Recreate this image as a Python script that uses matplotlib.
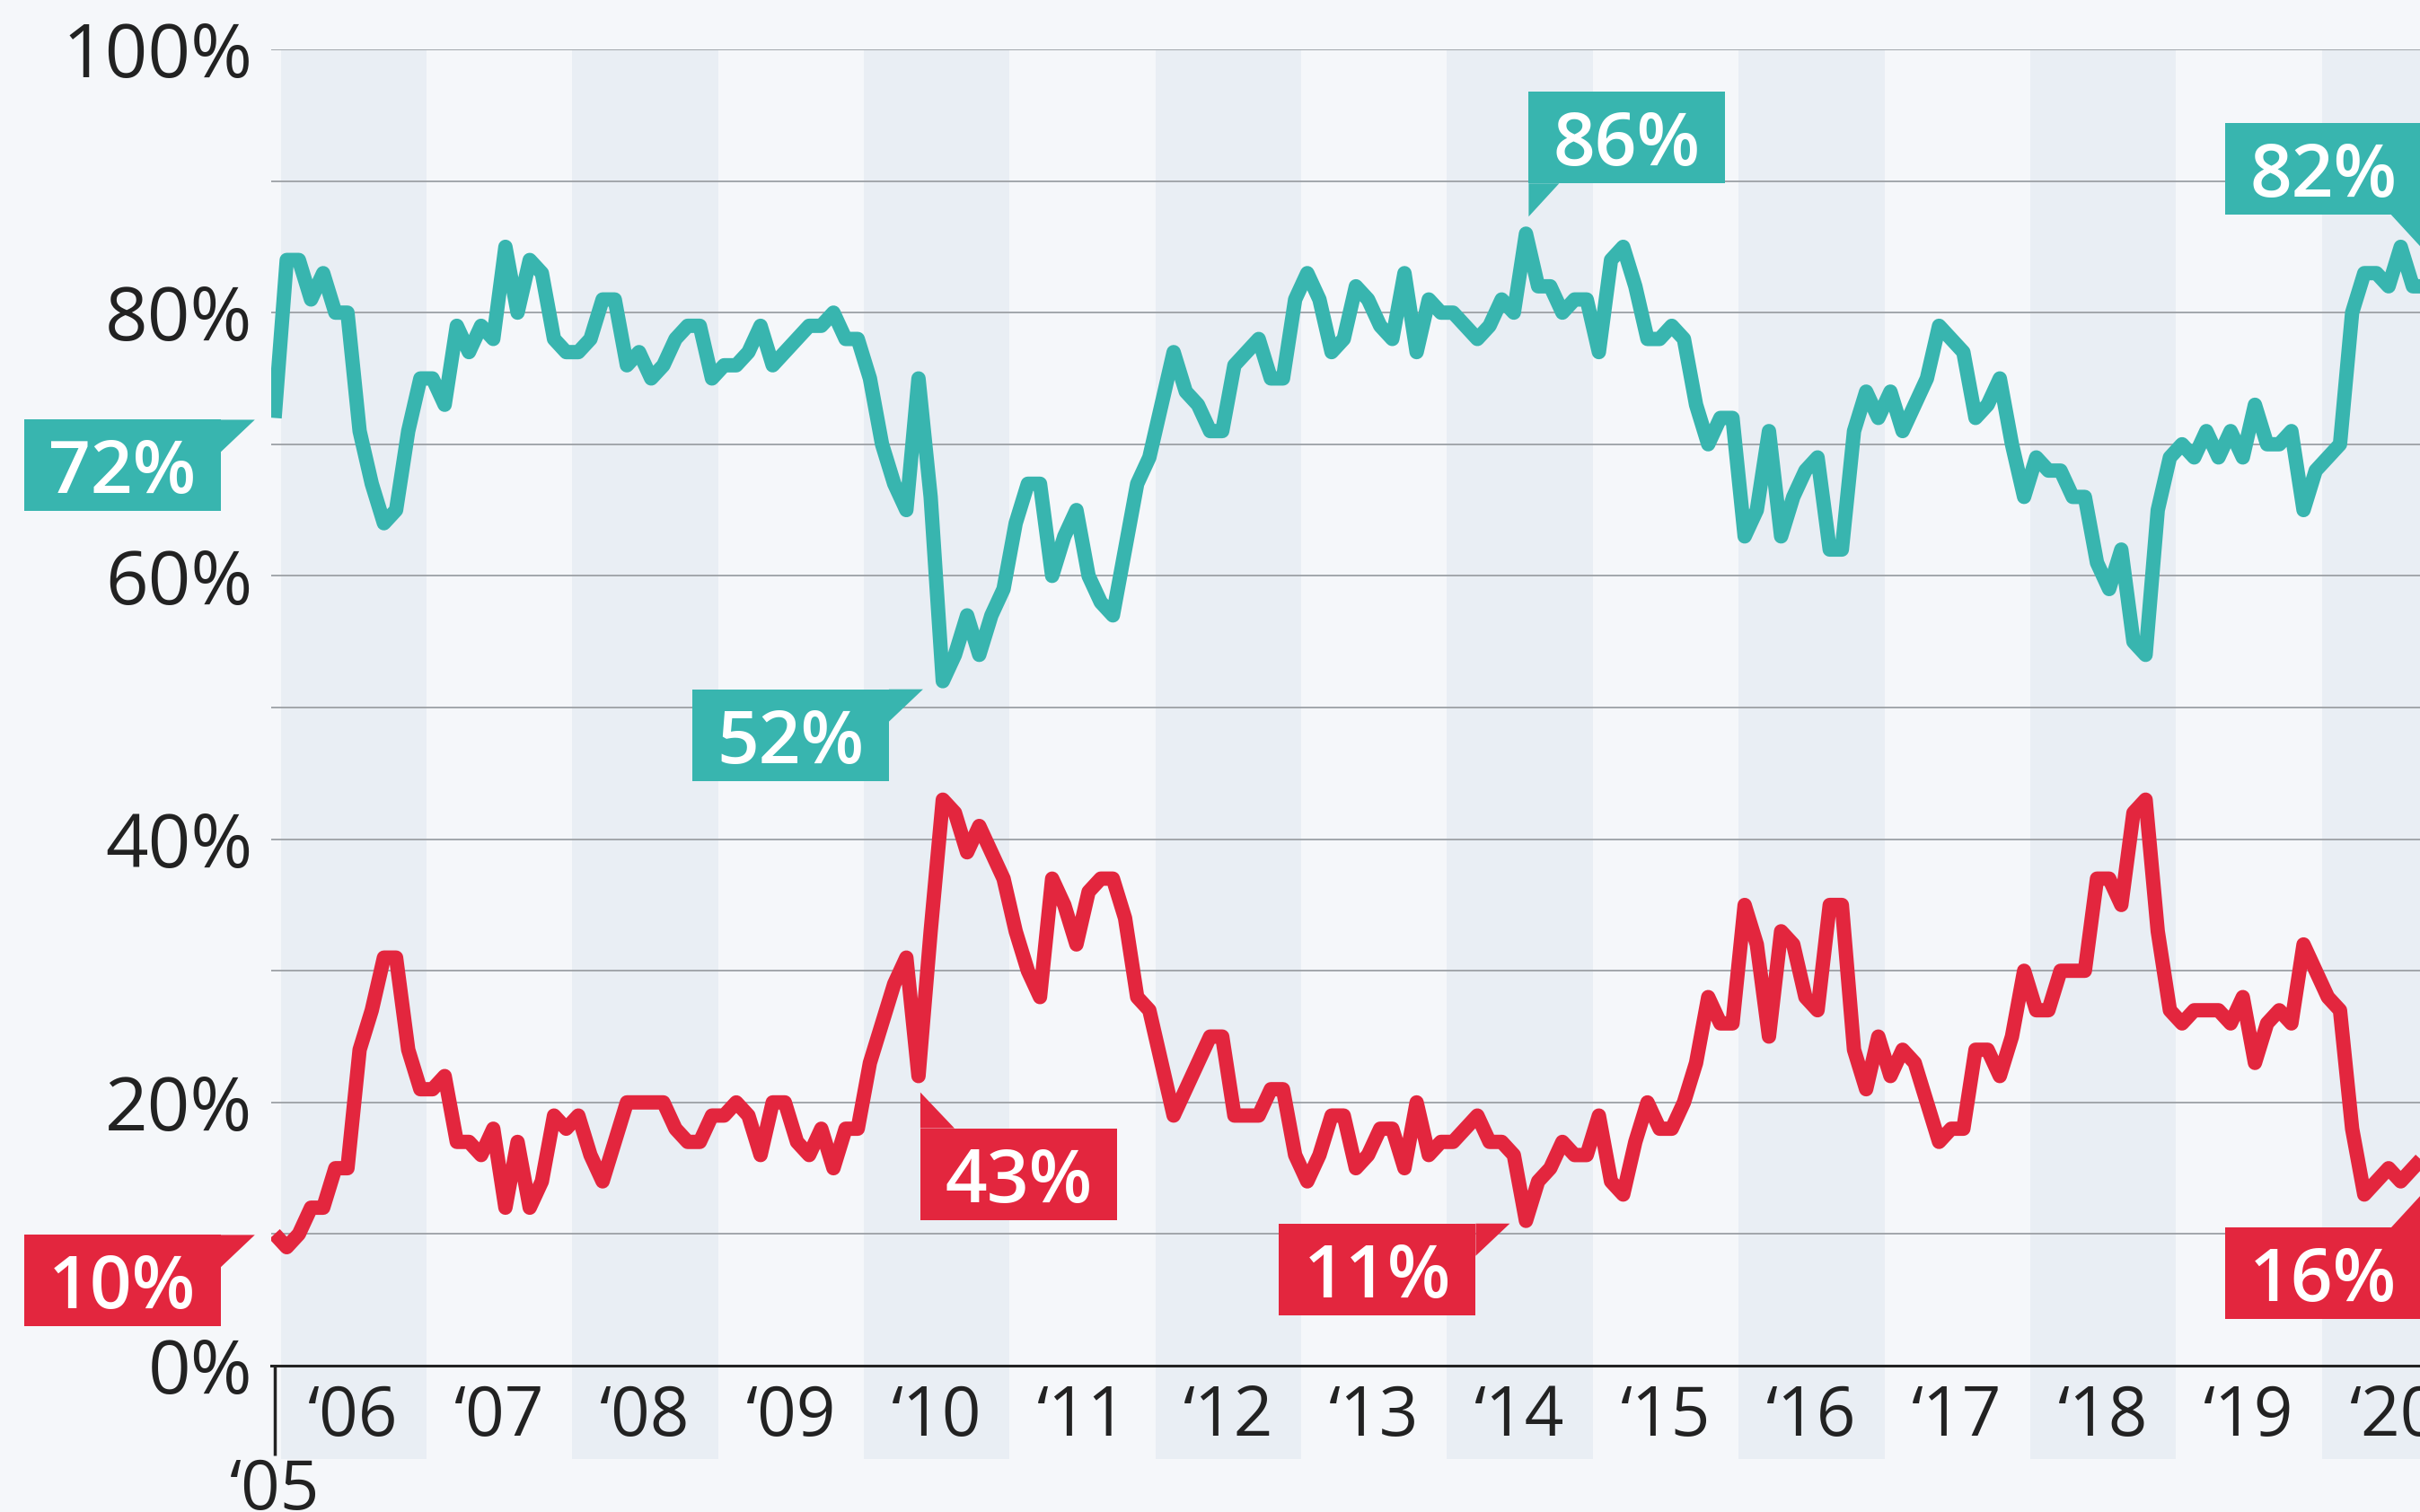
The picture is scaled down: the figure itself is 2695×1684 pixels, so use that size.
import matplotlib.pyplot as plt
from matplotlib.patches import Polygon
import numpy as np

plt.rcParams['font.family'] = ['Open Sans', 'DejaVu Sans']

W, H, DPI = 2695, 1684, 100

# monthly readings, Dec 2005 .. Sep 2020 (in %)
teal = [72, 84, 84, 81, 83, 80, 80, 71, 67, 64, 65, 71, 75, 75, 73, 79, 77, 79, 78, 85,
        80, 84, 83, 78, 77, 77, 78, 81, 81, 76, 77, 75, 76, 78, 79, 79, 75, 76, 76, 77,
        79, 76, 77, 78, 79, 79, 80, 78, 78, 75, 70, 67, 65, 75, 66, 52, 54, 57, 54, 57,
        59, 64, 67, 67, 60, 63, 65, 60, 58, 57, 62, 67, 69, 73, 77, 74, 73, 71, 71, 76,
        77, 78, 75, 75, 81, 83, 81, 77, 78, 82, 81, 79, 78, 83, 77, 81, 80, 80, 79, 78,
        79, 81, 80, 86, 82, 82, 80, 81, 81, 77, 84, 85, 82, 78, 78, 79, 78, 73, 70, 72,
        72, 63, 65, 71, 63, 66, 68, 69, 62, 62, 71, 74, 72, 74, 71, 73, 75, 79, 78, 77,
        72, 73, 75, 70, 66, 69, 68, 68, 66, 66, 61, 59, 62, 55, 54, 65, 69, 70, 69, 71,
        69, 71, 69, 73, 70, 70, 71, 65, 68, 69, 70, 80, 83, 83, 82, 85, 82, 82]
red = [10, 9, 10, 12, 12, 15, 15, 24, 27, 31, 31, 24, 21, 21, 22, 17, 17, 16, 18, 12,
       17, 12, 14, 19, 18, 19, 16, 14, 17, 20, 20, 20, 20, 18, 17, 17, 19, 19, 20, 19,
       16, 20, 20, 17, 16, 18, 15, 18, 18, 23, 26, 29, 31, 22, 33, 43, 42, 39, 41, 39,
       37, 33, 30, 28, 37, 35, 32, 36, 37, 37, 34, 28, 27, 23, 19, 21, 23, 25, 25, 19,
       19, 19, 21, 21, 16, 14, 16, 19, 19, 15, 16, 18, 18, 15, 20, 16, 17, 17, 18, 19,
       17, 17, 16, 11, 14, 15, 17, 16, 16, 19, 14, 13, 17, 20, 18, 18, 20, 23, 28, 26,
       26, 35, 32, 25, 33, 32, 28, 27, 35, 35, 24, 21, 25, 22, 24, 23, 20, 17, 18, 18,
       24, 24, 22, 25, 30, 27, 27, 30, 30, 30, 37, 37, 35, 42, 43, 33, 27, 26, 27, 27,
       27, 26, 28, 23, 26, 27, 26, 32, 30, 28, 27, 18, 13, 14, 15, 14, 15, 16]
months = np.arange(len(teal))

first_label = '‘05'
year_labels = ['‘06', '‘07', '‘08', '‘09', '‘10', '‘11', '‘12', '‘13',
               '‘14', '‘15', '‘16', '‘17', '‘18', '‘19', '‘20']

TEAL = '#38b5af'
RED = '#e3263e'
BG = '#f5f7fa'
BAND = '#e9eef4'

fig = plt.figure(figsize=(W / DPI, H / DPI), dpi=DPI, facecolor=BG)
x0_px, x1_px = 302.4, 2741.2
ax = fig.add_axes([x0_px / W, (H - 1521) / H, (x1_px - x0_px) / W, 1466 / H])
ax.set_facecolor(BG)
ax.set_xlim(-0.25, 180)
ax.set_ylim(0, 100)

# alternating year bands (even years shaded)
for k in range(0, len(year_labels), 2):
    ax.axvspan(0.5 + 12 * k, 12.5 + 12 * k, ymin=-0.071, ymax=1, color=BAND,
               lw=0, zorder=0, clip_on=False)

ax.plot(months, teal, color=TEAL, lw=11.5, zorder=3, solid_capstyle='butt')
ax.plot(months, red, color=RED, lw=11.5, zorder=3, solid_capstyle='butt')

# y axis
ax.set_yticks(range(0, 101, 20), labels=[f'{v}%' for v in range(0, 101, 20)])
ax.set_yticks(range(10, 100, 20), minor=True)
ax.grid(axis='y', which='both', color='#a2a6ab', lw=1.4, zorder=1)
ax.tick_params(axis='y', which='both', length=0, pad=15, labelsize=60,
               labelcolor='#222222')
for s in ['left', 'right', 'top']:
    ax.spines[s].set_visible(False)
ax.spines['bottom'].set_color('#222222')
ax.spines['bottom'].set_linewidth(2.2)
ax.spines['bottom'].set_zorder(4)

# x axis
ax.set_xticks([0], labels=[first_label])
ax.set_xticks([6.5 + 12 * k for k in range(len(year_labels))], labels=year_labels,
              minor=True)
ax.tick_params(axis='x', which='major', length=72, width=2.5, color='#222222',
               pad=1, labelsize=55, labelcolor='#222222')
ax.tick_params(axis='x', which='minor', length=0, pad=14, labelsize=55,
               labelcolor='#222222')

# callout boxes: (series, colour, index, tip offset px (x right, y down), pointer)
callouts = [
    (teal, TEAL, 0, -22, 2, 'tr'),
    (red, RED, 0, -22, 1, 'tr'),
    (teal, TEAL, 55, -22, 9, 'tr'),
    (red, RED, 55, -25, 326, 'tl'),
    (teal, TEAL, 103, 3, -19, 'bl'),
    (red, RED, 103, -18, 3, 'tr'),
    (teal, TEAL, 177, -4, -43, 'br'),
    (red, RED, 177, -4, 44, 'trv'),
]

BW, BH = 219, 102


def to_fig(pts):
    return [(x / W, 1 - y / H) for x, y in pts]


for series, col, i, dx, dy, kind in callouts:
    px, py = ax.transData.transform((months[i], series[i]))
    tx, ty = px + dx, (H - py) + dy
    if kind == 'tr':
        r, t = tx - 38, ty
        box = (r - BW, t, r, t + BH)
        tri = [(r, t), (tx, ty), (r, t + 36)]
    elif kind == 'tl':
        l, t = tx, ty + 40
        box = (l, t, l + BW, t + BH)
        tri = [(l, t), (tx, ty), (l + 38, t)]
    elif kind == 'bl':
        l, b = tx, ty - 37
        box = (l, b - BH, l + BW, b)
        tri = [(l, b), (tx, ty), (l + 34, b)]
    elif kind == 'br':
        r, b = tx, ty - 37
        box = (r - BW, b - BH, r, b)
        tri = [(r, b), (tx, ty), (r - 34, b)]
    else:
        r, t = tx, ty + 37
        box = (r - BW, t, r, t + BH)
        tri = [(r, t), (tx, ty), (r - 34, t)]
    bl_, bt, br_, bb = box
    rect = [(bl_, bt), (br_, bt), (br_, bb), (bl_, bb)]
    for shape in (rect, tri):
        fig.add_artist(Polygon(to_fig(shape), closed=True, transform=fig.transFigure,
                               facecolor=col, edgecolor='none', zorder=6))
    fig.text((bl_ + br_) / 2 / W, 1 - (bt + bb) / 2 / H, f'{series[i]}%',
             ha='center', va='center_baseline', color='white', fontsize=59,
             fontweight='semibold', zorder=7)

fig.savefig('out.png', dpi=DPI, facecolor=BG)
